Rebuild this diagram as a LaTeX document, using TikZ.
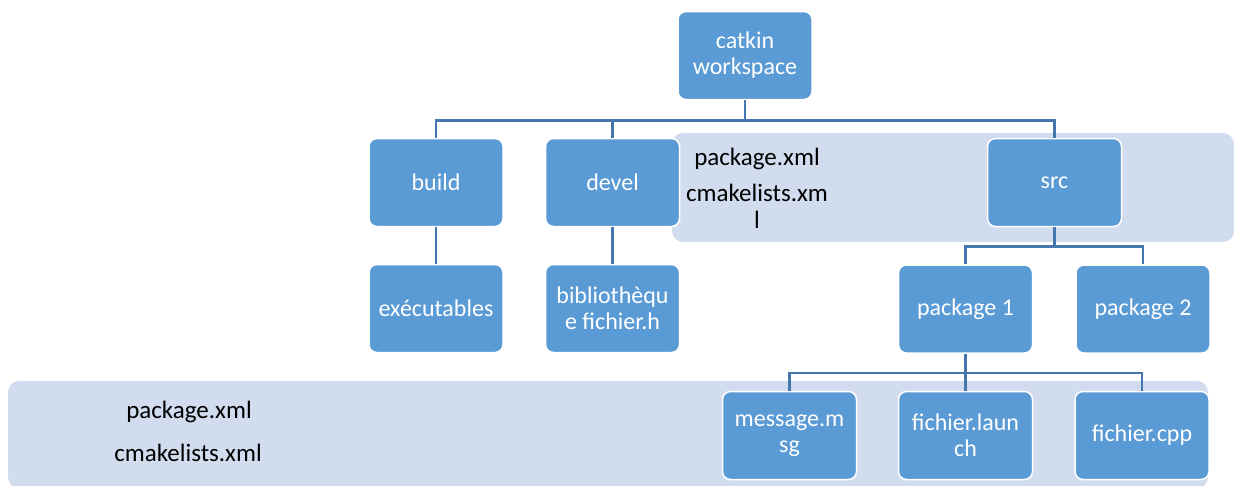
\documentclass[tikz,border=0pt]{standalone}
\usepackage{fontspec}
\setmainfont{Carlito}
\usetikzlibrary{positioning,calc}
\definecolor{boxblue}{RGB}{91,155,213}
\definecolor{linkblue}{RGB}{68,118,176}
\definecolor{bandblue}{RGB}{209,220,238}

\begin{document}
\begin{tikzpicture}[x=1pt, y=-1pt,
    box/.style={draw=white, line width=1.5pt, fill=boxblue, rounded corners=8pt, minimum width=134pt, minimum height=88pt, inner sep=2pt, align=center, text=white, font=\fontsize{24}{26}\selectfont},
    band/.style={fill=bandblue, rounded corners=11pt, inner sep=0pt},
    link/.style={draw=linkblue, line width=2.5pt},
    note/.style={font=\fontsize{25}{27}\selectfont, align=center}
]
    \useasboundingbox (0,0) rectangle (1234,485);

    % background bands
    \node[band, minimum width=562pt, minimum height=109pt] (srcband) at (953,187.5) {};
    \node[band, minimum width=1200pt, minimum height=107pt] (pkgband) at (608,434.5) {};

    \node[note] (srcxml) at (757,159) {package.xml};
    \node[note] (srccmake) at (757,206) {cmakelists.xm\\l};
    \node[note] (pkgxml) at (189,412) {package.xml};
    \node[note] (pkgcmake) at (188,453) {cmakelists.xml};

    % tree
    \node[box] (root) at (745,55.5) {catkin\\workspace};

    \node[box] (build) at (436,182.5) {build};
    \node[box] (devel) at (612.5,182.5) {devel};
    \node[box] (src) at (1054.5,182.5) {src};

    \node[box] (exec) at (436,308.5) {exécutables};
    \node[box] (biblio) at (612.5,308.5) {bibliothèqu\\e fichier.h};
    \node[box] (pkg1) at (965.5,309) {package 1};
    \node[box] (pkg2) at (1143,309) {package 2};

    \node[box] (msg) at (789.5,435.5) {message.m\\sg};
    \node[box] (launch) at (965.5,435.5) {fichier.laun\\ch};
    \node[box] (cpp) at (1142,435.5) {fichier.cpp};

    \draw[link] (root.south) -- ++(0,20) -| (build.north);
    \draw[link] (root.south) -- ++(0,20) -| (devel.north);
    \draw[link] (root.south) -- ++(0,20) -| (src.north);
    \draw[link] (build) -- (exec);
    \draw[link] (devel) -- (biblio);
    \draw[link] (src.south) -- ++(0,19) -| (pkg1.north);
    \draw[link] (src.south) -- ++(0,19) -| (pkg2.north);
    \draw[link] (pkg1.south) -- ++(0,19) -| (msg.north);
    \draw[link] (pkg1.south) -- ++(0,19) -| (launch.north);
    \draw[link] (pkg1.south) -- ++(0,19) -| (cpp.north);
\end{tikzpicture}
\end{document}
